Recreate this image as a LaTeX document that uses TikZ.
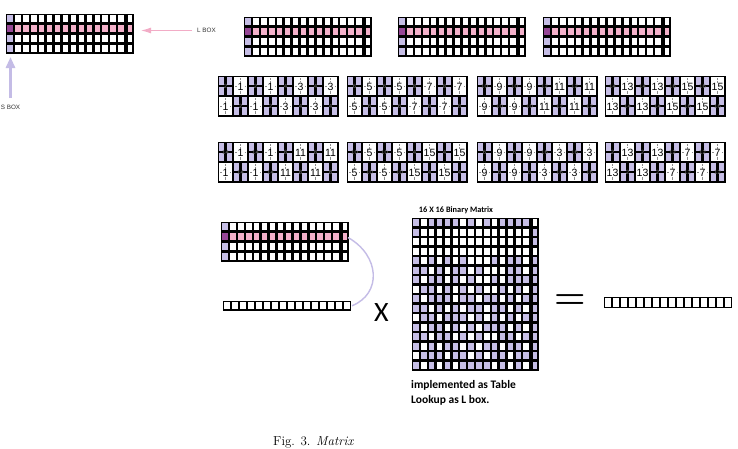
\documentclass[tikz,border=0pt]{standalone}
\usepackage{fontspec}
\usetikzlibrary{arrows.meta}
\newfontfamily\arialf{Liberation Sans}
\newfontfamily\calibf{Carlito}
\definecolor{lav}{RGB}{198,190,230}
\definecolor{lbpink}{RGB}{244,176,202}
\definecolor{lbpurple}{RGB}{150,70,150}
\definecolor{arrowpink}{RGB}{242,172,198}
\definecolor{arrowlav}{RGB}{196,188,230}
\tikzset{
  lgridframe/.style={inner sep=0,outer sep=0,minimum width=127,minimum height=39,anchor=north west,fill=black,draw=black,line width=0.8},
  nframe/.style={inner sep=0,outer sep=0,minimum width=120,minimum height=40,anchor=north west,fill=black,draw=black,line width=0.8},
  mframe/.style={inner sep=0,outer sep=0,minimum width=126,minimum height=152,anchor=north west,fill=black,draw=black,line width=0.8},
  vframe/.style={inner sep=0,outer sep=0,anchor=north west,fill=black},
  wnum/.style={font=\arialf\fontsize{10.5}{10.5}\selectfont,inner sep=0},
  lnum/.style={font=\arialf\fontsize{6}{6}\selectfont,text=black!55,inner sep=0},
  smalllabel/.style={font=\arialf\fontsize{6.3}{6.3}\selectfont,inner sep=1pt,text=black!80},
  pinkarrow/.style={draw=arrowpink,line width=1.8,-{Latex[length=11pt,width=6pt]}},
  lavarrow/.style={draw=arrowlav,line width=3.5,-{Triangle[length=11pt,width=9pt]}},
  lavcurve/.style={draw=arrowlav,line width=1.4},
  boldcal/.style={font=\calibf\bfseries,inner sep=0}
}
\newcommand\lgrid[3]{%
  \node[lgridframe] (#3) at (#1,#2) {};
  \foreach \c in {1,...,16}{\foreach \r in {1,...,4}{%
    \ifnum\c=1 \ifnum\r=2 \def\cc{lbpurple}\else\def\cc{lav}\fi
    \else \ifnum\r=2 \def\cc{lbpink}\else\def\cc{white}\fi\fi
    \ifnum\c=16 \def\ex{1.4}\else\def\ex{0}\fi
    \pgfmathsetmacro\xa{#1+(\c-1)*127/16+1.2+\ex}
    \pgfmathsetmacro\xb{#1+\c*127/16-1.2}
    \pgfmathsetmacro\ya{#2+(\r-1)*39/4+1.3}
    \pgfmathsetmacro\yb{#2+\r*39/4-1.3}
    \fill[\cc] (\xa,\ya) rectangle (\xb,\yb);
  }}%
}
\newcommand\lavgroup[3]{%
  \foreach \ii in {0,1}{\foreach \jj in {0,1}{%
    \fill[lav] ({#1+\ii*7.5+1.1},{#2+\jj*10+1.2}) rectangle ({#1+(\ii+1)*7.5-1.1},{#2+(\jj+1)*10-1.2});
  }}%
  \node[lnum] at ({#1+7.5},{#2+10}) {#3};
}
\newcommand\whgroup[3]{%
  \fill[white] ({#1+1.2},{#2+1.3}) rectangle ({#1+15-1.2},{#2+20-1.3});
  \draw[black!45,densely dotted,line width=0.4] ({#1+7.5},{#2+2}) -- ({#1+7.5},{#2+18});
  \draw[black!45,densely dotted,line width=0.4] ({#1+2},{#2+10}) -- ({#1+13},{#2+10});
  \node[wnum,fill=white,inner sep=0.3pt] at ({#1+7.5},{#2+10.5}) {#3};
}
\newcommand\nblock[4]{%
  \node[nframe] (#3) at (#1,#2) {};
  \foreach \wv/\lv [count=\k] in {#4}{%
    \foreach \r in {1,2}{%
      \ifnum\r=1 \pgfmathtruncatemacro\jl{2*\k-1}\pgfmathtruncatemacro\jw{2*\k}%
      \else \pgfmathtruncatemacro\jl{2*\k}\pgfmathtruncatemacro\jw{2*\k-1}\fi
      \pgfmathsetmacro\lx{#1+(\jl-1)*15}
      \pgfmathsetmacro\wx{#1+(\jw-1)*15}
      \pgfmathsetmacro\ry{#2+(\r-1)*20}
      \lavgroup{\lx}{\ry}{\lv}
      \whgroup{\wx}{\ry}{\wv}
  }}%
}
\newcommand\rowvec[5]{%
  \node[vframe,minimum width=#4,minimum height=#5] (#3) at (#1,#2) {};
  \foreach \c in {1,...,16}{%
    \fill[white] ({#1+(\c-1)*#4/16+1.1},{#2+1.2}) rectangle ({#1+\c*#4/16-1.1},{#2+#5-1.2});
  }%
}
\begin{document}
\begin{tikzpicture}[x=1pt,y=-1pt]
\useasboundingbox[fill=white] (0,0) rectangle (738,448);

% top-left L box with labels
\lgrid{6}{14}{lb0}
\node[smalllabel,anchor=west] (lbl) at (196,30.5) {L BOX};
\draw[pinkarrow,shorten <=4pt,shorten >=7pt] (lbl.west) -- (lbl.west -| lb0.east);
\node[smalllabel] (sbl) at (10.5,107.5) {S BOX};
\draw[lavarrow,shorten <=6pt,shorten >=4pt] (sbl.north) -- (sbl.north |- lb0.south);

% top row of L boxes
\lgrid{244}{17}{lb1}
\lgrid{398}{17}{lb2}
\lgrid{543}{17}{lb3}

% numbered blocks, row A
\nblock{218}{76}{na1}{1/2,1/2,3/4,3/4}
\nblock{347}{76}{na2}{5/6,5/6,7/8,7/8}
\nblock{477}{76}{na3}{9/10,9/10,11/12,11/12}
\nblock{605}{76}{na4}{13/14,13/14,15/16,15/16}
% row B
\nblock{218}{142}{nb1}{1/14,1/14,11/8,11/8}
\nblock{347}{142}{nb2}{5/10,5/10,15/4,15/4}
\nblock{477}{142}{nb3}{9/6,9/6,3/16,3/16}
\nblock{605}{142}{nb4}{13/2,13/2,7/12,7/12}

% bottom: L box, row vector, curve
\lgrid{221}{222}{lb4}
\rowvec{223}{301}{rv1}{128}{9.5}
\draw[lavcurve] ([yshift=4pt]lb4.east) .. controls +(32,18) and +(30,-12) .. ([xshift=1pt]rv1.east);
\node[font=\calibf\fontsize{28}{28}\selectfont,inner sep=0] (times) at (381.5,313) {X};

% binary matrix
\node[boldcal,font=\calibf\bfseries\fontsize{8.3}{8.3}\selectfont] (mtitle) at (456,210) {16 X 16 Binary Matrix};
\node[mframe] (mat) at (412,218) {};
\foreach \row [count=\r] in {
 {1,0,1,1,1,1,0,1,0,1,0,1,1,1,1,0},
 {1,0,0,0,0,0,0,0,0,0,0,0,0,0,0,1},
 {0,0,0,0,0,0,0,0,0,0,0,0,0,0,0,1},
 {0,0,0,0,0,0,0,0,0,0,0,0,0,0,0,0},
 {1,0,1,0,1,0,1,0,0,0,1,0,1,1,0,1},
 {1,1,0,1,0,1,1,0,1,0,0,0,1,1,0,1},
 {1,0,1,1,0,1,0,1,0,0,1,0,1,1,1,1},
 {0,1,1,0,1,0,1,0,1,0,0,1,0,1,0,1},
 {1,0,1,1,1,0,1,1,0,1,1,0,1,0,1,1},
 {1,1,0,1,0,1,0,1,1,0,1,1,0,1,0,1},
 {0,1,1,0,1,1,1,0,1,0,1,0,1,0,1,1},
 {1,0,1,1,0,1,0,1,0,1,1,1,0,1,0,1},
 {1,1,0,1,1,0,1,0,1,0,0,1,1,0,1,1},
 {1,0,1,0,1,1,0,1,0,1,1,0,1,1,0,1},
 {0,1,1,1,0,1,1,0,1,0,1,1,0,1,1,1},
 {1,0,1,0,1,0,1,1,1,1,0,1,0,1,0,1}}{%
  \foreach \v [count=\c] in \row {%
    \ifnum\v=1 \def\cc{lav}\else\def\cc{white}\fi
    \ifnum\c=16 \def\ex{1.4}\else\def\ex{0}\fi
    \pgfmathsetmacro\xa{412+(\c-1)*126/16+1.2+\ex}
    \pgfmathsetmacro\xb{412+\c*126/16-1.2}
    \pgfmathsetmacro\ya{218+(\r-1)*9.5+1.1}
    \pgfmathsetmacro\yb{218+\r*9.5-1.1}
    \fill[\cc] (\xa,\ya) rectangle (\xb,\yb);
  }%
}
\node[boldcal,font=\calibf\bfseries\fontsize{11.5}{15}\selectfont,anchor=north west,align=left] (mnote) at (411,380) {implemented as Table\\Lookup as L box.};

% equals and result vector
\node[inner sep=0,font=\bfseries\fontsize{36}{36}\selectfont] (eq) at (570.5,302) {=};
\rowvec{604}{297}{rv2}{128}{11}

% caption
\node[anchor=base west,inner sep=0,font=\fontsize{13}{13}\selectfont] (cap) at (273,445.2) {Fig. 3. \textit{Matrix}};
\end{tikzpicture}
\end{document}
